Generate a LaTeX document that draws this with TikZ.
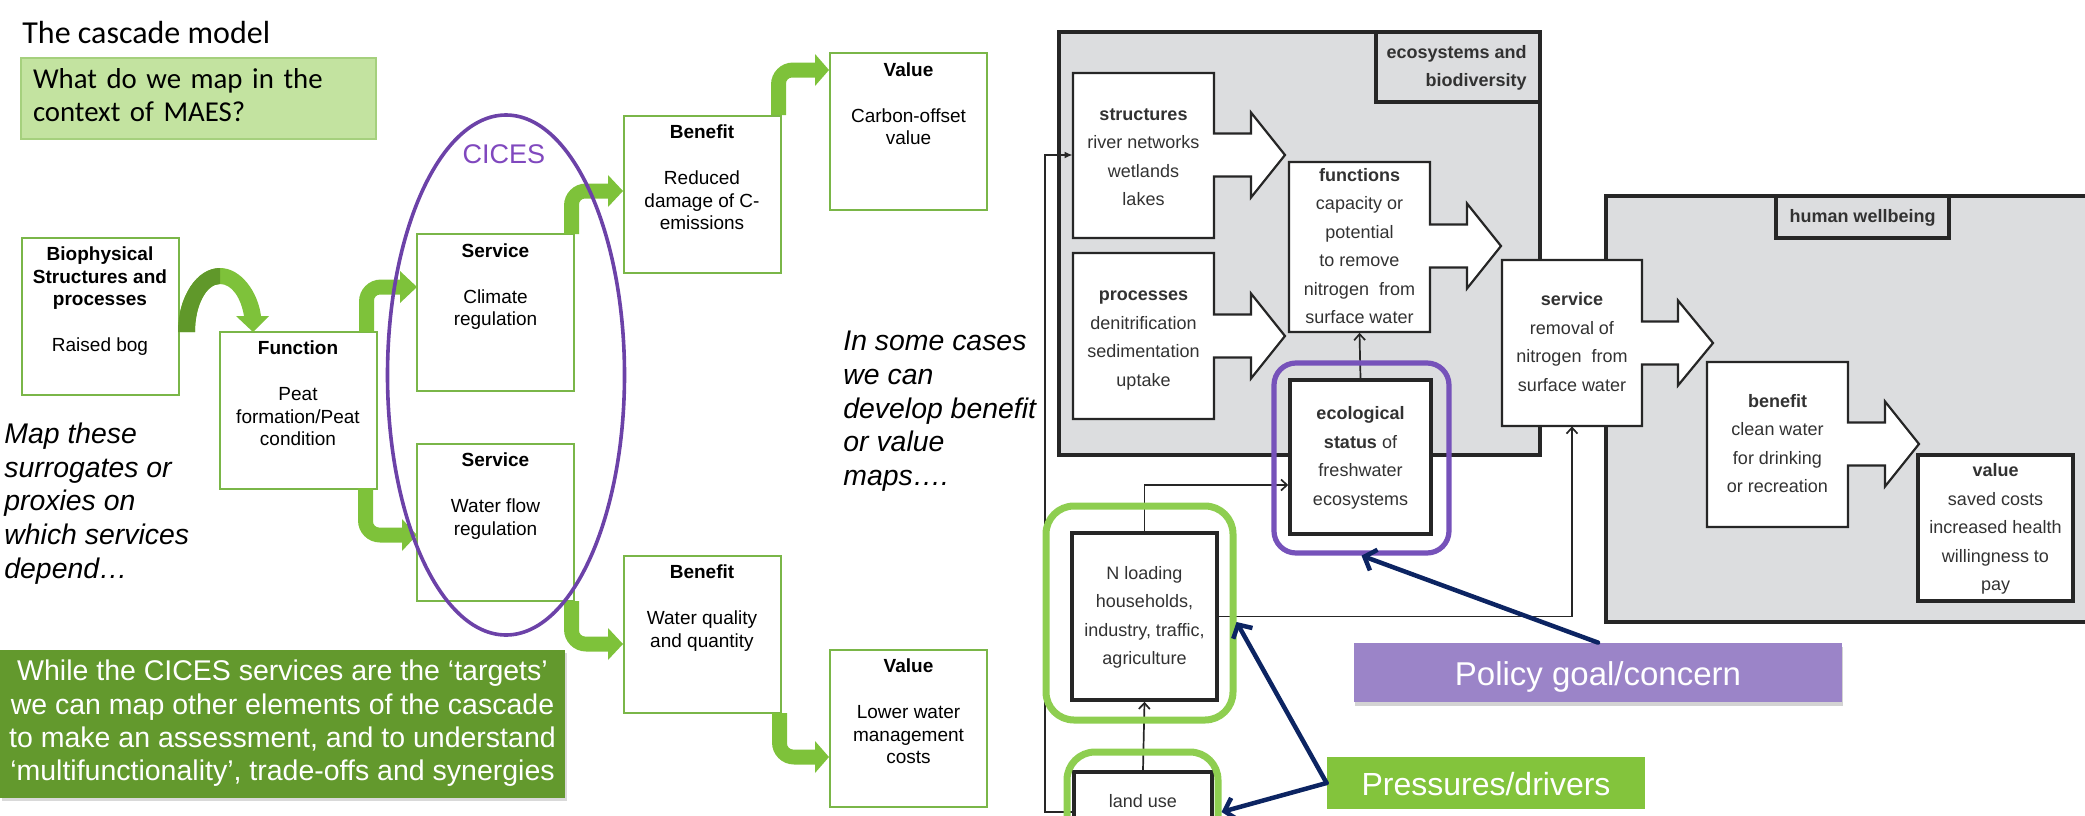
\documentclass[tikz,border=0pt]{standalone}
\usepackage{fontspec}
\setmainfont{Liberation Sans}
\newfontfamily\calfont{Carlito}
\usetikzlibrary{arrows.meta,positioning,shapes.geometric,shadows}

\definecolor{boxgreen}{RGB}{122,182,72}
\definecolor{arrgreen}{RGB}{126,194,58}
\definecolor{arrdark}{RGB}{96,152,42}
\definecolor{qfill}{RGB}{195,227,160}
\definecolor{qline}{RGB}{165,208,125}
\definecolor{darkgreen}{RGB}{99,153,45}
\definecolor{cicespurple}{RGB}{108,66,168}
\definecolor{cicestext}{RGB}{128,72,190}
\definecolor{ecopurple}{RGB}{118,82,186}
\definecolor{policyfill}{RGB}{155,132,200}
\definecolor{pressfill}{RGB}{131,196,60}
\definecolor{hlgreen}{RGB}{142,206,80}
\definecolor{navy}{RGB}{12,36,98}
\definecolor{panelgray}{RGB}{220,221,223}
\definecolor{ink}{RGB}{38,38,38}
\definecolor{txtgray}{RGB}{50,50,50}

% white block arrow: rectangle x1 y1 x2 y2, head base x, tip x, tip y
\newcommand\blockarrow[7]{%
  \draw[barrow] (#1,#2) -- (#3,#2) -- (#3,{#7-21.5}) -- (#5,{#7-21.5}) -- (#5,{#7-42.5})
    -- (#6,#7) -- (#5,{#7+42.5}) -- (#5,{#7+21.5}) -- (#3,{#7+21.5}) -- (#3,#4) -- (#1,#4) -- cycle;}

% green bent arrow going up then right: stem left x, stem base y, head base x, tip x, tip y
\newcommand\bentup[5]{%
  \fill[garrow] (#1,#2) -- (#1,{#5-7.5+22}) .. controls (#1,{#5-7.5+9.86}) and ({#1+9.86},{#5-7.5}) .. ({#1+22},{#5-7.5})
    -- (#3,{#5-7.5}) -- (#3,{#5-16}) -- (#4,#5) -- (#3,{#5+16}) -- (#3,{#5+7.5}) -- ({#1+21},{#5+7.5})
    .. controls ({#1+17.7},{#5+7.5}) and ({#1+15},{#5+10.2}) .. ({#1+15},{#5+13.5}) -- ({#1+15},#2) -- cycle;}

% green bent arrow going down then right
\newcommand\bentdown[5]{%
  \fill[garrow] (#1,#2) -- (#1,{#5+7.5-22}) .. controls (#1,{#5+7.5-9.86}) and ({#1+9.86},{#5+7.5}) .. ({#1+22},{#5+7.5})
    -- (#3,{#5+7.5}) -- (#3,{#5+16}) -- (#4,#5) -- (#3,{#5-16}) -- (#3,{#5-7.5}) -- ({#1+21},{#5-7.5})
    .. controls ({#1+17.7},{#5-7.5}) and ({#1+15},{#5-10.2}) .. ({#1+15},{#5-13.5}) -- ({#1+15},#2) -- cycle;}

\begin{document}
\begin{tikzpicture}[x=0.5pt,y=-0.5pt,
  lbox/.style={draw=boxgreen, line width=1pt, fill=white, minimum width=78.5pt, minimum height=78.5pt, inner sep=0pt},
  ltext/.style={font=\fontsize{9.5}{11.25}\selectfont, align=center, inner sep=0pt, anchor=north},
  italtext/.style={font=\itshape\fontsize{14.2}{16.9}\selectfont, align=left, inner sep=0pt, anchor=north west},
  garrow/.style={fill=arrgreen},
  rfont/.style={font=\fontsize{9}{14.25}\selectfont, text=txtgray, align=center},
  panel/.style={draw=ink, line width=1.6pt, fill=panelgray, inner sep=0pt},
  barrow/.style={draw=ink, line width=1.1pt, fill=white, line join=miter},
  wrect/.style={rfont, draw=none, inner sep=0pt},
  thickbox/.style={rfont, draw=ink, line width=1.75pt, fill=white, inner sep=0pt},
  conn/.style={draw=ink, line width=0.85pt},
  openarr/.style={-{Straight Barb[length=3pt,width=5.5pt]}},
  hlbox/.style={draw=hlgreen, line width=3.5pt, rounded corners=14pt, inner sep=0pt},
  navyarr/.style={draw=navy, line width=2.25pt, line cap=round, -{Straight Barb[length=5pt,width=11pt]}},
  tagbox/.style={text=white, inner sep=0pt, text depth=0pt}
]
\useasboundingbox (0,0) rectangle (2085,815);
\clip (0,0) rectangle (2085,815);

% ---------------- left: the cascade ----------------
\node[anchor=base west, inner sep=0pt, font=\calfont\fontsize{16}{19}\selectfont] (title) at (22,43) {The cascade model};
\node[fill=qfill, draw=qline, line width=1pt, minimum width=177.5pt, minimum height=40.5pt,
      text width=165.5pt, inner xsep=6pt, inner ysep=0pt, align=left,
      font=\calfont\fontsize{14.4}{16.5}\selectfont] (question) at (198.5,98.5)
      {\strut What do we map in the\\context of MAES?\strut};

\node[lbox] (bio)  at (100,316)   {};
\node[lbox] (fun)  at (298,410)   {};
\node[lbox] (svc1) at (495.5,312.5) {};
\node[lbox] (svc2) at (495.5,522) {};
\node[lbox] (ben1) at (702,194)   {};
\node[lbox] (val1) at (908.5,131.5) {};
\node[lbox] (ben2) at (702,634)   {};
\node[lbox] (val2) at (908.5,728) {};

\node[ltext, below=4.125pt of bio.north]  (biot)  {\strut\textbf{Biophysical}\\\textbf{Structures and}\\\textbf{processes}\\[11.75pt]Raised bog};
\node[ltext, below=4.125pt of fun.north]  (funt)  {\strut\textbf{Function}\\[11.75pt]Peat\\formation/Peat\\condition};
\node[ltext, below=4.125pt of svc1.north] (svc1t) {\strut\textbf{Service}\\[11.75pt]Climate\\regulation};
\node[ltext, below=4.125pt of svc2.north] (svc2t) {\strut\textbf{Service}\\[11.75pt]Water flow\\regulation};
\node[ltext, below=4.125pt of ben1.north] (ben1t) {\strut\textbf{Benefit}\\[11.75pt]Reduced\\damage of C-\\emissions};
\node[ltext, below=4.125pt of val1.north] (val1t) {\strut\textbf{Value}\\[11.75pt]Carbon-offset\\value};
\node[ltext, below=4.125pt of ben2.north] (ben2t) {\strut\textbf{Benefit}\\[11.75pt]Water quality\\and quantity};
\node[ltext, below=4.125pt of val2.north] (val2t) {\strut\textbf{Value}\\[11.75pt]Lower water\\management\\costs};

% curved arrow from structures to function, shaded on its rising side
\fill[arrgreen] (178,332) .. controls (178,296.7) and (196.8,268) .. (220,268)
  .. controls (241,268) and (258,292) .. (261,316) -- (269,316) -- (253,332) -- (236,316) -- (244,316)
  .. controls (241,298) and (232,284) .. (220,284) .. controls (206.2,284) and (195,305.5) .. (195,332) -- cycle;
\fill[arrdark] (178,332) .. controls (178,296.7) and (196.8,268) .. (220,268) -- (220,284)
  .. controls (206.2,284) and (195,305.5) .. (195,332) -- cycle;

% bent block arrows between the cascade boxes
\bentup{359}{332}{400}{417}{287}
\bentup{564}{234}{608}{623}{191}
\bentup{771}{115}{815}{829}{70}
\bentdown{358}{488}{402}{417}{535}
\bentdown{564}{601}{608}{623}{644}
\bentdown{772}{713}{815}{829}{757}

% CICES envelope
\node[ellipse, draw=cicespurple, line width=1.8pt, minimum width=118.5pt, minimum height=260pt, inner sep=0pt] (cices) at (506,375) {};
\node[anchor=base, inner sep=0pt, text=cicestext, font=\fontsize{13.5}{16}\selectfont] (cicest) at (504,163) {CICES};

\node[italtext] (maptxt) at (4,419.3) {\strut Map these\\surrogates or\\proxies on\\which services\\depend…};
\node[italtext] (casetxt) at (843,326.4) {\strut In some cases\\we can\\develop benefit\\or value\\maps….};

\node[fill=darkgreen, text=white, align=center, minimum width=282.5pt, minimum height=74pt, inner sep=0pt,
      font=\fontsize{14.25}{16.65}\selectfont,
      drop shadow={shadow xshift=1.2pt, shadow yshift=-1.5pt, opacity=0.3}] (note) at (282.5,724)
  {\strut While the CICES services are the ‘targets’\\we can map other elements of the cascade\\to make an assessment, and to understand\\‘multifunctionality’, trade-offs and synergies\strut};

% ---------------- right: nitrogen removal cascade ----------------
\node[panel, minimum width=240.5pt, minimum height=211.5pt] (ecopanel) at (1299.5,243.5) {};
\node[panel, minimum width=82pt, minimum height=35pt] (ecolab) at (1458,67) {};
\node[rfont, font=\bfseries\fontsize{9}{14.25}\selectfont, align=right, anchor=east, inner sep=0pt] (ecolabt) at (1527,67) {\strut ecosystems and\\biodiversity\strut};

\node[panel, minimum width=252pt, minimum height=213pt] (hwpanel) at (1858,409) {};
\node[panel, rfont, font=\bfseries\fontsize{9}{14.25}\selectfont, minimum width=86.5pt, minimum height=21pt] (hwlab) at (1862.5,217) {\strut human wellbeing};

\blockarrow{1073}{73}{1214}{238}{1251}{1285}{155}
\node[wrect, minimum width=70.5pt, minimum height=82.5pt] (struct) at (1143.5,157.5)
  {\strut\textbf{structures}\\river networks\\wetlands\\lakes\strut};
\blockarrow{1073}{253}{1214}{419}{1251}{1285}{336}
\node[wrect, minimum width=70.5pt, minimum height=83pt] (proc) at (1143.5,338)
  {\strut\textbf{processes}\\denitrification\\sedimentation\\uptake\strut};
\blockarrow{1289}{162}{1430}{332}{1467}{1501}{246}
\node[wrect, minimum width=70.5pt, minimum height=85pt] (func) at (1359.5,247)
  {\strut\textbf{functions}\\capacity or\\potential\\to remove\\nitrogen\ \ from\\surface water\strut};
\blockarrow{1502}{260}{1642}{426}{1678}{1713}{343}
\node[wrect, minimum width=70pt, minimum height=83pt] (serv) at (1572,343)
  {\strut\textbf{service}\\removal of\\nitrogen\ \ from\\surface water\strut};
\blockarrow{1707}{362}{1848}{527}{1885}{1919}{444}
\node[wrect, minimum width=70.5pt, minimum height=82.5pt] (benr) at (1777.5,444.5)
  {\strut\textbf{benefit}\\clean water\\for drinking\\or recreation\strut};

\node[thickbox, minimum width=70.5pt, minimum height=77pt] (ecos) at (1360.5,457)
  {\strut\textbf{ecological}\\\textbf{status} of\\freshwater\\ecosystems\strut};
\node[thickbox, minimum width=72.5pt, minimum height=83.5pt] (nload) at (1144.5,616.5)
  {\strut N loading\\households,\\industry, traffic,\\agriculture\strut};
\node[thickbox, minimum width=77.5pt, minimum height=73pt] (valr) at (1995.5,528)
  {\strut\textbf{value}\\saved costs\\increased health\\willingness to\\pay\strut};
\node[thickbox, minimum width=69pt, minimum height=29.5pt] (lu) at (1143,801.5) {\strut land use};

% flows between the elements
\coordinate (loopc) at (1045,155);
\draw[conn, openarr] (ecos.north) -- (func.south);
\draw[conn, openarr] (lu.north) -- (nload.south);
\draw[conn, openarr] (nload.north) |- ([yshift=-14pt]ecos.west);
\draw[conn, openarr] (nload.east) -| (serv.south);
\draw[conn, -{Latex[length=4pt,width=3.5pt]}] ([yshift=-5.25pt]lu.west) -| (loopc) -- (loopc -| struct.west);

% highlights
\node[draw=ecopurple, line width=2.6pt, rounded corners=11pt, inner sep=0pt, minimum width=87.5pt, minimum height=95pt] (ecopur) at (1361.5,458) {};
\node[hlbox, minimum width=93.5pt, minimum height=107pt] (ngr) at (1139.5,613) {};
\node[hlbox, minimum width=75.5pt, minimum height=60pt] (lgr) at (1142.5,812) {};

\node[tagbox, fill=policyfill, minimum width=244pt, minimum height=29.5pt, text height=12.9pt,
      font=\fontsize{16.5}{19}\selectfont,
      drop shadow={shadow xshift=0.6pt, shadow yshift=-2pt, opacity=0.35}] (pol) at (1598,672.5) {Policy goal/concern};
\node[tagbox, fill=pressfill, minimum width=159pt, minimum height=26pt, text height=12.5pt,
      font=\fontsize{16}{19}\selectfont] (pres) at (1486,783) {Pressures/drivers};

\draw[navyarr] (pol.north) -- (ecopur.south);
\draw[navyarr] (pres.west) -- ([yshift=-4.5pt]ngr.east);
\draw[navyarr] (pres.west) -- (lgr.east);
\end{tikzpicture}
\end{document}
